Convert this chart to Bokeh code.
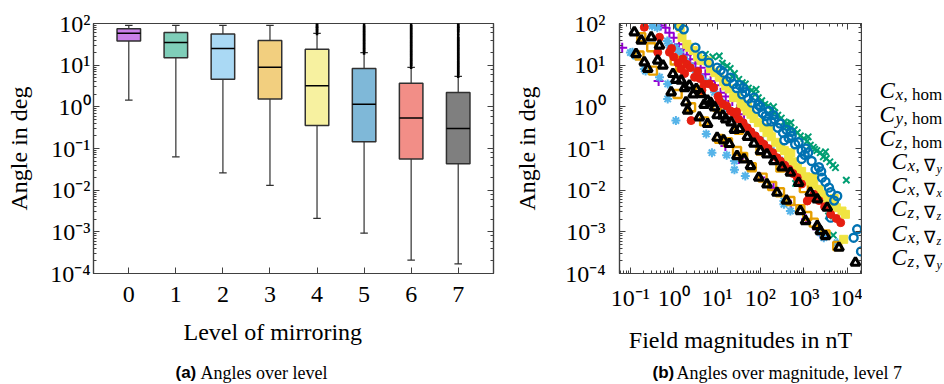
import numpy as np
from bokeh.plotting import figure
from bokeh.layouts import row, column
from bokeh.models import (LogAxis, FixedTicker, LogTicker, CustomJSTickFormatter, Range1d, Title)
from bokeh.core.properties import value
from bokeh.embed import file_html
from bokeh.resources import INLINE

# ---------------- data (a): angles over level ----------------
levels = [0, 1, 2, 3, 4, 5, 6, 7]
whisker_low = [1.45, 0.063, 0.026, 0.013, 0.0021, 0.00093, 0.00021, 0.00017]
q1 = [38, 15, 4.6, 1.55, 0.355, 0.145, 0.056, 0.043]
median = [58, 35, 25, 8.9, 3.2, 1.15, 0.54, 0.30]
q3 = [75, 61, 56, 39, 24, 8.3, 3.7, 2.2]
whisker_high = [90, 90, 90, 90, 58, 20, 8.9, 5.4]
outlier_level = [4, 4, 4, 4,
                 5, 5, 5, 5, 5, 5, 5, 5, 5, 5,
                 6, 6, 6, 6, 6, 6, 6, 6, 6, 6, 6, 6, 6, 6, 6,
                 7, 7, 7, 7, 7, 7, 7, 7, 7, 7, 7, 7, 7, 7, 7, 7, 7, 7]
outlier_angle = [62, 72, 84, 92,
                 21, 24.5, 28.8, 33.9, 39.8, 46.8, 55, 64.6, 76, 90,
                 9.5, 11.2, 13.2, 15.5, 18.2, 21.4, 25.1, 29.5, 34.7, 40.7, 47.9, 56.2, 66.1, 77.6, 91,
                 5.8, 6.8, 8.0, 9.4, 11.0, 13.0, 15.2, 17.9, 21.0, 24.7, 29.0, 34.1, 40.0, 47.0, 62, 72, 84, 92]
box_colors = ["#9400d3", "#009e73", "#56b4e9", "#e69f00", "#f0e442", "#0072b2", "#e51e10", "#000000"]

# ---------------- data (b): angles over magnitude, level 7 ----------------
series_labels = ["C_x,hom", "C_y,hom", "C_z,hom", "C_x,\u2207y", "C_x,\u2207x", "C_z,\u2207z", "C_x,\u2207z", "C_z,\u2207y"]

Cx_hom_B = [0.0646, 0.447, 0.501, 0.646, 0.794, 1.00, 1.32, 1.66, 2.00, 2.40, 3.16, 4.17, 5.37, 7.08, 8.91,
            12.0, 15.8, 22.4, 28.8, 41.7, 15.5, 31.6, 100, 200, 501, 1122, 2042, 2884]
Cx_hom_A = [26.3, 4.17, 89.1, 79.4, 60.3, 45.7, 31.6, 24.0, 17.8, 13.8, 11.0, 8.71, 6.03, 4.17, 3.31,
            2.19, 1.78, 1.38, 0.871, 0.661, 0.115, 0.0562, 0.0200, 0.0112, 0.00447, 0.00200, 0.00115, 0.000794]

Cy_hom_B = [5.37, 7.94, 11.2, 13.2, 17.0, 20.0, 22.4, 25.1, 31.6, 38.0, 44.7, 52.5, 63.1, 75.9, 89.1, 100,
            107, 126, 151, 178, 214, 251, 302, 355, 398, 417, 501, 603, 708, 832, 1000, 1202, 1413, 1660,
            1778, 1995, 2399, 2818, 3311, 3981, 4677, 5370, 9550, 3715, 4786, 646,
            79.4, 200, 501, 1259, 3162]
Cy_hom_A = [18.2, 15.8, 16.6, 11.2, 9.55, 8.32, 5.25, 6.31, 4.57, 3.80, 3.55, 2.82, 2.51, 2.00, 1.66, 1.26,
            1.41, 1.15, 1.05, 0.832, 0.724, 0.631, 0.537, 0.437, 0.331, 0.398, 0.316, 0.282, 0.240, 0.200,
            0.174, 0.151, 0.120, 0.107, 0.0955, 0.0891, 0.0794, 0.0631, 0.0575, 0.0479, 0.0398, 0.0347,
            0.0174, 0.0024, 0.00083, 0.0145,
            2.63, 1.00, 0.417, 0.191, 0.0832]

Cz_hom_B = [0.100, 0.112, 0.132, 0.209, 0.224, 0.316, 0.417, 0.468, 0.708, 0.724, 0.724, 0.794, 1.10, 1.12,
            1.35, 1.78, 2.40, 3.31, 4.17, 5.62, 5.62, 7.59, 8.71, 12.3, 16.6, 17.8, 25.1, 25.1, 25.1, 35.5,
            44.7, 50.1, 70.8, 100, 178, 316, 347, 347, 490, 2399, 2884, 5888]
Cz_hom_A = [20.0, 20.4, 16.6, 8.13, 7.24, 87.1, 79.4, 5.13, 38.0, 3.55, 1.55, 29.5, 26.3, 0.468, 20.4, 14.1,
            9.55, 6.76, 5.01, 3.89, 0.224, 0.0794, 2.24, 1.29, 0.0692, 0.891, 0.631, 0.0501, 0.0309, 0.447,
            0.0219, 0.316, 0.209, 0.158, 0.0891, 0.0501, 0.00550, 0.00457, 0.00316, 0.000955, 0.000724, 0.000550]

Cx_ny_B = [0.178, 0.302, 0.162, 0.331, 1.05, 1.41, 1.23, 2.51, 5.01, 11.2, 17.8, 28.8, 39.8, 63.1, 112, 186,
           282, 490, 832, 1202, 1698, 3162, 5888, 3.98, 10.0, 31.6, 100, 288, 1000]
Cx_ny_A = [46.8, 26.9, 17.0, 7.41, 12.9, 8.91, 2.04, 0.977, 0.447, 0.170, 0.141, 0.0871, 0.0631, 0.0355,
           0.0200, 0.0126, 0.00891, 0.00550, 0.00347, 0.00240, 0.00166, 0.000871, 0.000457, 2.51, 1.00,
           0.282, 0.0891, 0.0347, 0.0112]

Cx_nx_B = [1.41, 1.55, 2.00, 2.29, 2.82, 3.55, 4.27, 5.89, 7.08, 8.91, 11.2, 14.1, 19.1, 24.0, 28.2, 35.5,
           41.7, 49.0, 60.3, 70.8, 89.1, 120, 141, 178, 224, 288, 355, 447, 562, 708, 891, 1122, 1413, 1698,
           2239, 2818, 3548, 4169, 5623, 7586, 9120, 8318,
           15.8, 50.1, 158, 501, 1585, 5012]
Cx_nx_A = [79.4, 45.7, 31.6, 26.9, 22.4, 15.8, 12.9, 12.6, 8.32, 6.61, 5.13, 3.98, 2.69, 1.66, 1.78, 1.20,
           1.00, 0.794, 0.661, 0.525, 0.417, 0.316, 0.240, 0.191, 0.141, 0.105, 0.0891, 0.0631, 0.0479,
           0.0347, 0.0282, 0.0209, 0.0166, 0.0138, 0.0105, 0.00794, 0.00562, 0.00457, 0.00380, 0.00316,
           0.00263, 0.000661,
           3.16, 1.12, 0.282, 0.0794, 0.0200, 0.00631]

Cz_nz_B = [1.32, 1.70, 3.16, 4.47, 6.46, 10.0, 12.0, 14.1, 16.6, 20.4, 24.0, 28.2, 33.1, 38.0, 44.7, 52.5,
           63.1, 70.8, 83.2, 100, 112, 132, 158, 178, 209, 251, 282, 331, 398, 447, 525, 631, 759, 891,
           1047, 1259, 1514, 1862, 2239, 2630, 3162, 3802, 4169, 5012, 5888, 4169, 17000, 14100, 20900,
           39.8, 89.1, 200, 501, 1122, 2512, 141, 355, 891]
Cz_nz_A = [87.1, 72.4, 26.3, 16.6, 11.5, 8.71, 7.59, 6.61, 4.17, 5.01, 3.55, 2.82, 3.31, 2.00, 2.24, 1.58,
           1.26, 1.66, 0.891, 1.00, 0.708, 0.603, 0.794, 0.447, 0.501, 0.316, 0.398, 0.240, 0.282, 0.178,
           0.200, 0.126, 0.141, 0.0891, 0.0708, 0.0794, 0.0501, 0.0316, 0.0355, 0.0200, 0.0158, 0.0115,
           0.00891, 0.00562, 0.00724, 0.00219, 0.00115, 0.000724, 0.000339,
           2.82, 1.12, 0.631, 0.251, 0.100, 0.0282, 0.447, 0.158, 0.0562]

Cx_nz_B = [0.209, 0.468, 0.427, 0.794, 1.00, 1.48, 1.62, 2.00, 2.40, 2.51, 3.02, 3.98, 5.01, 6.61, 8.32,
           10.5, 13.5, 16.6, 20.4, 25.1, 31.6, 39.8, 49.0, 60.3, 75.9, 95.5, 120, 151, 191, 240, 288, 363,
           457, 562, 708, 891, 1202, 1318, 1698, 2239, 3020, 4169, 5623, 7079,
           1.26, 3.55, 1.78, 4.47, 11.2, 28.2, 0.891]
Cx_nz_A = [81.3, 46.8, 20.4, 20.4, 15.8, 8.13, 14.1, 10.5, 8.71, 0.468, 5.13, 4.79, 3.55, 3.55, 2.88, 1.78,
           1.17, 1.05, 0.794, 0.661, 0.501, 0.417, 0.316, 0.251, 0.200, 0.158, 0.126, 0.100, 0.0794, 0.0603,
           0.0501, 0.0398, 0.0316, 0.0251, 0.0200, 0.0141, 0.00550, 0.00631, 0.00794, 0.00562, 0.00398,
           0.00263, 0.00209, 0.00166,
           11.2, 7.08, 6.31, 2.51, 1.41, 0.759, 25.1]

Cz_ny_B = [0.123, 0.178, 0.302, 0.468, 0.135, 0.209, 0.251, 0.427, 0.562, 0.955, 1.48, 2.29, 3.31, 4.27,
           6.03, 8.71, 13.5, 20.9, 33.1, 50.1, 70.8, 100, 141, 204, 316, 490, 759, 1413, 2042, 3467,
           0.871, 1.91, 2.09, 3.89, 6.03, 10.0, 14.1, 19.1, 28.8, 41.7, 58.9, 91.2, 141, 240, 398, 832,
           1096, 2042, 2399, 3162, 6457, 15500,
           1.12, 1.78, 2.82, 5.01, 7.08, 10.0, 15.8, 25.1]
Cz_ny_A = [61.7, 38.9, 46.8, 29.5, 18.6, 11.7, 8.13, 12.9, 9.77, 6.17, 4.27, 3.24, 2.69, 2.04, 1.41, 0.977,
           0.617, 0.427, 0.295, 0.191, 0.132, 0.0871, 0.0724, 0.0501, 0.0355, 0.0263, 0.0151, 0.00871,
           0.00603, 0.00380, 2.24, 1.29, 0.813, 0.562, 0.389, 0.182, 0.158, 0.129, 0.0661, 0.0550, 0.0380,
           0.0200, 0.0138, 0.00871, 0.00562, 0.00316, 0.00182, 0.00138, 0.00105, 0.000794, 0.000417,
           0.000182,
           4.47, 2.82, 2.00, 1.12, 1.26, 0.631, 0.501, 0.282]

caption_a = ["(a)", "Angles over level"]
caption_b = ["(b)", "Angles over magnitude, level 7"]

# ---------------- styling ----------------
SERIF = "Liberation Serif"
SANS = "Liberation Sans"
FRAME = "#404040"

sup_fmt_code = """
const s = {"0":"\\u2070","1":"\\u00b9","2":"\\u00b2","3":"\\u00b3","4":"\\u2074","5":"\\u2075",
           "6":"\\u2076","7":"\\u2077","8":"\\u2078","9":"\\u2079","-":"\\u207b"};
const e = Math.round(Math.log10(tick));
return "10" + String(e).split("").map(c => s[c]).join("");
"""


def sup_fmt():
    return CustomJSTickFormatter(code=sup_fmt_code)


def blank_fmt():
    return CustomJSTickFormatter(code="return '';")


def style_axis(ax, show_labels=True):
    ax.axis_line_color = FRAME
    ax.axis_line_width = 1.2
    ax.major_tick_in = 6
    ax.major_tick_out = 0
    ax.minor_tick_in = 3
    ax.minor_tick_out = 0
    ax.major_tick_line_color = FRAME
    ax.minor_tick_line_color = FRAME
    ax.major_tick_line_width = 1
    ax.minor_tick_line_width = 1
    ax.major_label_text_font = SERIF
    ax.major_label_text_font_size = "24px" if show_labels else "0px"
    ax.major_label_text_color = "black"
    ax.axis_label_text_font = SERIF
    ax.axis_label_text_font_size = "24px"
    ax.axis_label_text_font_style = "normal"
    ax.axis_label_text_color = "black"
    if not show_labels:
        ax.major_label_standoff = 0
        ax.formatter = blank_fmt()


def style_fig(p):
    p.xgrid.visible = False
    p.ygrid.visible = False
    p.outline_line_color = FRAME
    p.outline_line_width = 1.2
    p.background_fill_color = "white"
    p.border_fill_color = "white"


FRAME_TOP = 23
FRAME_H = 250
BOT_B = 87          # space below the frames in the top row (page y 273..360)

# ---------------- figure (a) ----------------
p1 = figure(frame_width=400, frame_height=FRAME_H, x_range=(-0.75, 7.75), y_range=(1e-4, 1e2),
            y_axis_type="log", output_backend="svg", toolbar_location=None,
            min_border_left=93, min_border_right=7, min_border_top=FRAME_TOP, min_border_bottom=BOT_B)
style_fig(p1)

lv = np.array(levels, dtype=float)
BOX_W = 0.5
CAP_W = 0.16
p1.segment(x0=lv, y0=q3, x1=lv, y1=whisker_high, line_color="#303030", line_width=1.2)
p1.segment(x0=lv, y0=whisker_low, x1=lv, y1=q1, line_color="#303030", line_width=1.2)
p1.segment(x0=lv - CAP_W / 2, y0=whisker_high, x1=lv + CAP_W / 2, y1=whisker_high, line_color="#303030", line_width=1.2)
p1.segment(x0=lv - CAP_W / 2, y0=whisker_low, x1=lv + CAP_W / 2, y1=whisker_low, line_color="#303030", line_width=1.2)
p1.vbar(x=levels, bottom=q1, top=q3, width=BOX_W, fill_color=box_colors, fill_alpha=0.5,
        line_color="#303030", line_width=1.5)
p1.segment(x0=lv - BOX_W / 2, y0=median, x1=lv + BOX_W / 2, y1=median, line_color="black", line_width=1.5)
p1.scatter(x=outlier_level, y=outlier_angle, marker="dash", angle=np.pi / 2, size=6,
           line_color="black", line_width=2.5)

p1.xaxis.ticker = FixedTicker(ticks=levels)
p1.yaxis.axis_label = "Angle in deg"
p1.yaxis.formatter = sup_fmt()
style_axis(p1.xaxis[0])
style_axis(p1.yaxis[0])
p1.xaxis.minor_tick_line_color = None
p1.xaxis.major_label_standoff = 13
p1.yaxis.major_label_standoff = 3
p1.yaxis.axis_label_standoff = 15
r1 = LogAxis(ticker=LogTicker())
style_axis(r1, show_labels=False)
p1.add_layout(r1, "right")
# x-axis title of (a): placed slightly left of the frame centre, as in the reference
p1.add_layout(Title(text="Level of mirroring", align="left", offset=90, standoff=24,
                    text_font=SERIF, text_font_size="24px", text_font_style="normal",
                    text_color="black"), "below")

# ---------------- figure (b) ----------------
p2 = figure(frame_width=242, frame_height=FRAME_H, x_range=(0.056, 21400), y_range=(1e-4, 1e2),
            x_axis_type="log", y_axis_type="log", output_backend="svg", toolbar_location=None,
            min_border_left=119, min_border_right=1, min_border_top=FRAME_TOP, min_border_bottom=BOT_B)
style_fig(p2)

p2.scatter(Cx_hom_B, Cx_hom_A, marker="cross", size=10, line_color="#9400d3", line_width=2)
p2.scatter(Cy_hom_B, Cy_hom_A, marker="x", size=9, line_color="#009e73", line_width=2)
p2.scatter(Cz_hom_B, Cz_hom_A, marker="asterisk", size=9, line_color="#56b4e9", line_width=2)
p2.scatter(Cx_ny_B, Cx_ny_A, marker="square", size=8, fill_color=None, line_color="#e69f00", line_width=2.4)
p2.scatter(Cx_nx_B, Cx_nx_A, marker="square", size=8, fill_color="#f0e442", line_color="#f0e442")
p2.scatter(Cz_nz_B, Cz_nz_A, marker="circle", size=8, fill_color=None, line_color="#0072b2", line_width=2.4)
p2.scatter(Cx_nz_B, Cx_nz_A, marker="circle", size=8, fill_color="#e51e10", line_color="#e51e10")
p2.scatter(Cz_ny_B, Cz_ny_A, marker="triangle", size=9, fill_color=None, line_color="black", line_width=3.2)

p2.xaxis.axis_label = "Field magnitudes in nT"
p2.yaxis.axis_label = "Angle in deg"
p2.xaxis.formatter = sup_fmt()
p2.yaxis.formatter = sup_fmt()
style_axis(p2.xaxis[0])
style_axis(p2.yaxis[0])
p2.xaxis.major_label_standoff = 11
p2.xaxis.axis_label_standoff = 13
p2.yaxis.major_label_standoff = 14
p2.yaxis.axis_label_standoff = 22
r2 = LogAxis(ticker=LogTicker())
style_axis(r2, show_labels=False)
p2.add_layout(r2, "right")
t2 = LogAxis(ticker=LogTicker())
style_axis(t2, show_labels=False)
p2.add_layout(t2, "above")

# ---------------- legend texts (page x 862..944, frame rows aligned with plots) ----------------
LX0 = 862
p3 = figure(frame_width=944 - LX0, frame_height=FRAME_H, x_range=Range1d(LX0, 944),
            y_range=Range1d(FRAME_TOP + FRAME_H, FRAME_TOP),
            output_backend="svg", toolbar_location=None, x_axis_location=None, y_axis_location=None,
            min_border_left=0, min_border_right=0, min_border_top=FRAME_TOP, min_border_bottom=BOT_B)
p3.xgrid.visible = False
p3.ygrid.visible = False
p3.outline_line_color = None
p3.background_fill_color = "white"
p3.border_fill_color = "white"

legend_rows_y = [90, 114, 138, 161, 185, 208, 233, 257]
c_x, c_y, s_x, s_y, s_t, r_x, r_y, r_t, ss_x, ss_y, ss_t = [], [], [], [], [], [], [], [], [], [], []
for i, lab in enumerate(series_labels):
    first, rest = lab.split("_")[1].split(",")
    by = legend_rows_y[i]
    x0 = 879 if rest == "hom" else 891
    c_x.append(x0); c_y.append(by)
    s_x.append(x0 + 16); s_y.append(by + 4); s_t.append(first)
    r_x.append(x0 + 24); r_y.append(by + 4)
    if rest == "hom":
        r_t.append(", hom")
    else:
        r_t.append(", " + rest[0])
        ss_x.append(x0 + 45); ss_y.append(by + 7); ss_t.append(rest[1])
p3.text(x=c_x, y=c_y, text=["C"] * len(c_x), text_font=value(SERIF), text_font_size="23px",
        text_font_style="italic", text_baseline="alphabetic", text_color="black")
p3.text(x=s_x, y=s_y, text=s_t, text_font=value(SERIF), text_font_size="17px",
        text_font_style="italic", text_baseline="alphabetic", text_color="black")
p3.text(x=r_x, y=r_y, text=r_t, text_font=value(SERIF), text_font_size="17px",
        text_baseline="alphabetic", text_color="black")
p3.text(x=ss_x, y=ss_y, text=ss_t, text_font=value(SERIF), text_font_size="12px",
        text_font_style="italic", text_baseline="alphabetic", text_color="black")

# ---------------- caption strip (page y 360..384) ----------------
CAP_H = 24
cap = figure(frame_width=944, frame_height=CAP_H, x_range=Range1d(0, 944), y_range=Range1d(CAP_H, 0),
             output_backend="svg", toolbar_location=None, x_axis_location=None, y_axis_location=None,
             min_border=0)
cap.xgrid.visible = False
cap.ygrid.visible = False
cap.outline_line_color = None
cap.background_fill_color = "white"
cap.border_fill_color = "white"
cap.text(x=[175, 652], y=[12, 12], text=[caption_a[0], caption_b[0]], text_font=value(SANS),
         text_font_size="17px", text_font_style="bold", text_baseline="middle", text_color="black")
cap.text(x=[200, 676], y=[12, 12], text=[caption_a[1], caption_b[1]], text_font=value(SERIF),
         text_font_size="18px", text_baseline="middle", text_color="black")

layout = column(row(p1, p2, p3), cap)
with open("out.html", "w", encoding="utf-8") as f:
    f.write(file_html(layout, INLINE))
